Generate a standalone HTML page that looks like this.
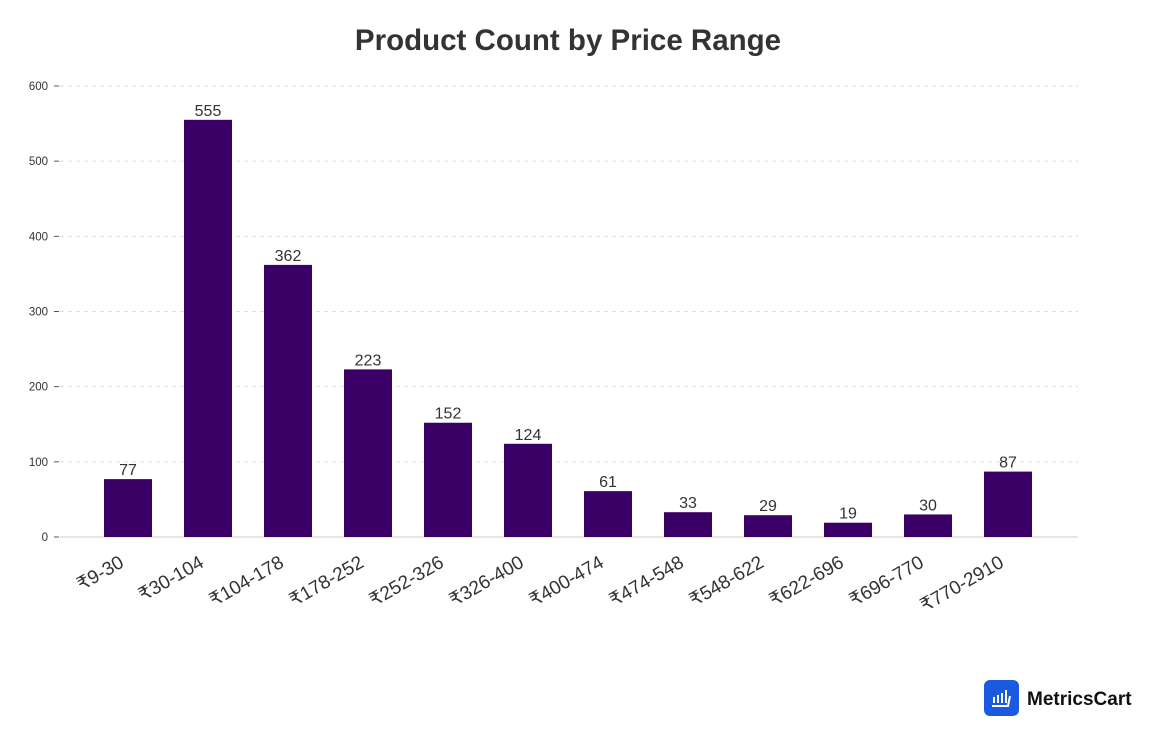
<!DOCTYPE html>
<html><head><meta charset="utf-8">
<style>
body{margin:0;background:#fff;width:1163px;height:746px;overflow:hidden;font-family:"Liberation Sans",sans-serif;}
svg{display:block}
</style></head>
<body>
<svg id="chart" width="1163" height="746">
<text x="568" y="50" text-anchor="middle" font-size="29.5" font-weight="bold" fill="#333">Product Count by Price Range</text>
<g id="grid"></g><g id="bars"></g><g id="xl"></g>
<g>
<rect x="984" y="680" width="35" height="36" rx="6" fill="#1a5ae0"/>
<path d="M994 703v-6M998 703v-8M1002 703v-10M1006 703v-13M992 706h16l2-10" stroke="#fff" stroke-width="2" fill="none"/>
<text x="1027" y="705" font-size="19" font-weight="bold" fill="#111">MetricsCart</text>
</g>
</svg>
<script>
const categories=["₹9-30","₹30-104","₹104-178","₹178-252","₹252-326","₹326-400","₹400-474","₹474-548","₹548-622","₹622-696","₹696-770","₹770-2910"];
const values=[77,555,362,223,152,124,61,33,29,19,30,87];
const ticks=[0,100,200,300,400,500,600];
const NS="http://www.w3.org/2000/svg";
const y0=537,yTop=86,maxV=600;
const y=v=>y0-(v/maxV)*(y0-yTop);
const xc=i=>128+i*80;
function mk(t,a,p,txt){const e=document.createElementNS(NS,t);for(const k in a)e.setAttribute(k,a[k]);if(txt!==undefined)e.textContent=txt;p.appendChild(e);return e;}
const g=document.getElementById('grid'),b=document.getElementById('bars'),xl=document.getElementById('xl');
ticks.forEach(t=>{
 if(t>0){const l=mk('line',{x1:60,x2:1078,y1:y(t),y2:y(t),stroke:'#ddd','stroke-dasharray':'4,4'},g);
 
 }
 const tk=mk('line',{x1:54,x2:59,y1:y(t),y2:y(t),stroke:'#555'},g);
 
 
 const tx=mk('text',{x:48,y:y(t)+4,'text-anchor':'end','font-size':11.5,fill:'#333'},g,t);
 
 
});
const ax=mk('line',{x1:60,x2:1078,y1:y0,y2:y0,stroke:'#ccc'},g);


values.forEach((v,i)=>{
 const r=mk('rect',{x:xc(i)-24,y:y(v),width:48,height:y0-y(v),fill:'#3b0066'},b);
 
 
 const t=mk('text',{x:xc(i),y:y(v)-4,'text-anchor':'middle','font-size':16,fill:'#333'},b,v);
 
 
 const lx=xc(i)-3,ly=566;
 const c=mk('text',{x:lx,y:ly,'text-anchor':'end','font-size':19,fill:'#333',transform:`rotate(-30 ${lx} ${ly})`},xl,categories[i]);
 
 
});
</script>
</body></html>
